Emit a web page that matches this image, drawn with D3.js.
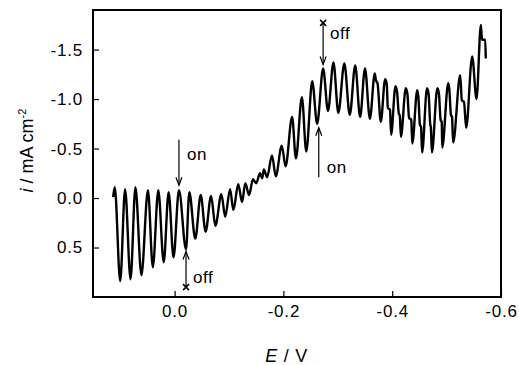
<!DOCTYPE html>
<html>
<head>
<meta charset="utf-8">
<script src="https://cdn.jsdelivr.net/npm/d3@7"></script>
<style>
  body { margin: 0; background: #fff; }
  text { font-family: Arial, "Liberation Sans", Helvetica, sans-serif; fill: #000; }
</style>
</head>
<body>
<svg id="chart" width="519" height="365"></svg>
<script>
// potential E (V) and current density i (mA cm-2)
const potential = [
  0.113, 0.110, 0.100, 0.091, 0.081, 0.072, 0.061, 0.049, 0.040, 0.030,
  0.020, 0.011, 0.002, -0.008, -0.021, -0.027, -0.038, -0.048, -0.057, -0.067,
  -0.075, -0.086, -0.093, -0.102, -0.108, -0.117, -0.124, -0.130, -0.137, -0.144,
  -0.150, -0.157, -0.161, -0.164, -0.170, -0.179, -0.186, -0.197, -0.204, -0.216,
  -0.223, -0.234, -0.242, -0.253, -0.262, -0.273, -0.282, -0.292, -0.301, -0.312,
  -0.322, -0.332, -0.341, -0.350, -0.359, -0.368, -0.370, -0.373, -0.379, -0.387,
  -0.390, -0.392, -0.396, -0.398, -0.406, -0.409, -0.412, -0.414, -0.416, -0.425,
  -0.428, -0.431, -0.435, -0.437, -0.446, -0.448, -0.451, -0.453, -0.455, -0.464,
  -0.467, -0.470, -0.471, -0.473, -0.483, -0.486, -0.489, -0.491, -0.492, -0.503,
  -0.505, -0.508, -0.510, -0.512, -0.525, -0.528, -0.532, -0.536, -0.547, -0.555,
  -0.563, -0.565, -0.571, -0.572
];
const current = [
  -0.01, -0.11, 0.84, -0.09, 0.82, -0.11, 0.78, -0.08, 0.70, -0.08,
  0.65, -0.06, 0.60, -0.08, 0.52, -0.06, 0.41, -0.03, 0.34, -0.02,
  0.28, -0.04, 0.19, -0.09, 0.12, -0.14, 0.04, -0.15, -0.03, -0.19,
  -0.15, -0.25, -0.20, -0.29, -0.21, -0.43, -0.22, -0.53, -0.32, -0.82,
  -0.40, -1.02, -0.47, -1.18, -0.75, -1.31, -0.88, -1.37, -0.86, -1.36,
  -0.84, -1.34, -0.82, -1.31, -0.80, -1.26, -1.19, -1.16, -0.77, -1.20,
  -1.15, -0.91, -0.89, -0.64, -1.13, -1.07, -0.86, -0.83, -0.62, -1.11,
  -1.05, -0.81, -0.79, -0.55, -1.09, -1.03, -0.74, -0.72, -0.46, -1.11,
  -1.05, -0.74, -0.72, -0.46, -1.11, -1.05, -0.79, -0.77, -0.51, -1.16,
  -1.10, -0.84, -0.82, -0.56, -1.24, -0.99, -0.97, -0.71, -1.43, -1.00,
  -1.75, -1.60, -1.60, -1.41
];

const xTicks = [0.0, -0.2, -0.4, -0.6];
const yTicks = [-1.5, -1.0, -0.5, 0.0, 0.5];

// light on / off markers
const markLabel = ["on", "off", "on", "off"];
const markE     = [-0.008, -0.021, -0.265, -0.273];
const markFrom  = [-0.59, 0.90, -0.21, -1.77];
const markTo    = [-0.13, 0.54, -0.71, -1.35];
const markTextI = [-0.44, 0.80, -0.31, -1.67];
const markCross = [false, true, false, true];

const margin = {top: 10, right: 18, bottom: 68, left: 93};
const width = 519 - margin.left - margin.right;
const height = 365 - margin.top - margin.bottom;

const svg = d3.select("#chart");
const g = svg.append("g")
  .attr("transform", "translate(" + margin.left + "," + margin.top + ")");

const x = d3.scaleLinear().domain([0.15, -0.6]).range([0, width]);
const y = d3.scaleLinear().domain([-1.9, 1.0]).range([0, height]);

const fmt = d => d.toFixed(1);

// axes, ticks pointing inwards
const yAxis = g.append("g")
  .call(d3.axisLeft(y).tickValues(yTicks).tickSize(-6).tickPadding(10).tickFormat(fmt));
const xAxis = g.append("g")
  .attr("transform", "translate(0," + height + ")")
  .call(d3.axisBottom(x).tickValues(xTicks).tickSize(-6).tickPadding(8).tickFormat(fmt));

[xAxis, yAxis].forEach(a => {
  a.select(".domain").remove();
  a.selectAll("line").attr("stroke", "#000").attr("stroke-width", 1.2);
  a.selectAll("text")
    .attr("font-size", 17)
    .attr("letter-spacing", 0.8)
    .attr("font-family", "Arial, 'Liberation Sans', sans-serif");
});

// frame
g.append("rect")
  .attr("width", width)
  .attr("height", height)
  .attr("fill", "none")
  .attr("stroke", "#000")
  .attr("stroke-width", 2);

// trace
const line = d3.line()
  .x(i => x(potential[i]))
  .y(i => y(current[i]))
  .curve(d3.curveMonotoneX);

g.append("path")
  .datum(d3.range(potential.length))
  .attr("d", line)
  .attr("fill", "none")
  .attr("stroke", "#000")
  .attr("stroke-width", 2.4)
  .attr("stroke-linejoin", "round");

// on / off arrows
markLabel.forEach((lab, k) => {
  const ax = x(markE[k]);
  const y1 = y(markFrom[k]);
  const y2 = y(markTo[k]);
  const dir = y2 > y1 ? 1 : -1;
  g.append("line")
    .attr("x1", ax).attr("x2", ax)
    .attr("y1", y1).attr("y2", y2)
    .attr("stroke", "#000").attr("stroke-width", 1.2);
  g.append("path")
    .attr("d", "M" + (ax - 3) + "," + (y2 - dir * 8) + "L" + ax + "," + y2 + "L" + (ax + 3) + "," + (y2 - dir * 8))
    .attr("fill", "none").attr("stroke", "#000").attr("stroke-width", 1.2);
  if (markCross[k]) {
    g.append("path")
      .attr("d", "M" + (ax - 3) + "," + (y1 - 3) + "L" + (ax + 3) + "," + (y1 + 3) +
                 "M" + (ax - 3) + "," + (y1 + 3) + "L" + (ax + 3) + "," + (y1 - 3))
      .attr("stroke", "#000").attr("stroke-width", 1.5);
  }
  g.append("text")
    .attr("x", ax + (markCross[k] ? 7 : 8))
    .attr("y", y(markTextI[k]))
    .attr("dy", "0.35em")
    .attr("font-size", 17)
    .attr("letter-spacing", 0.5)
    .text(lab);
});

// axis titles
const xt = svg.append("text")
  .attr("x", margin.left + x(-0.206))
  .attr("y", 362)
  .attr("text-anchor", "middle")
  .attr("font-size", 18)
  .attr("letter-spacing", 0.8);
xt.append("tspan").attr("font-style", "italic").text("E");
xt.append("tspan").text(" / V");

const yt = svg.append("text")
  .attr("transform", "translate(33," + (margin.top + y(-0.48)) + ") rotate(-90)")
  .attr("text-anchor", "middle")
  .attr("font-size", 18);
yt.append("tspan").attr("font-style", "italic").text("i");
yt.append("tspan").text(" / mA cm");
yt.append("tspan").attr("font-size", 11).attr("dy", -7).text("-2");
</script>
</body>
</html>
